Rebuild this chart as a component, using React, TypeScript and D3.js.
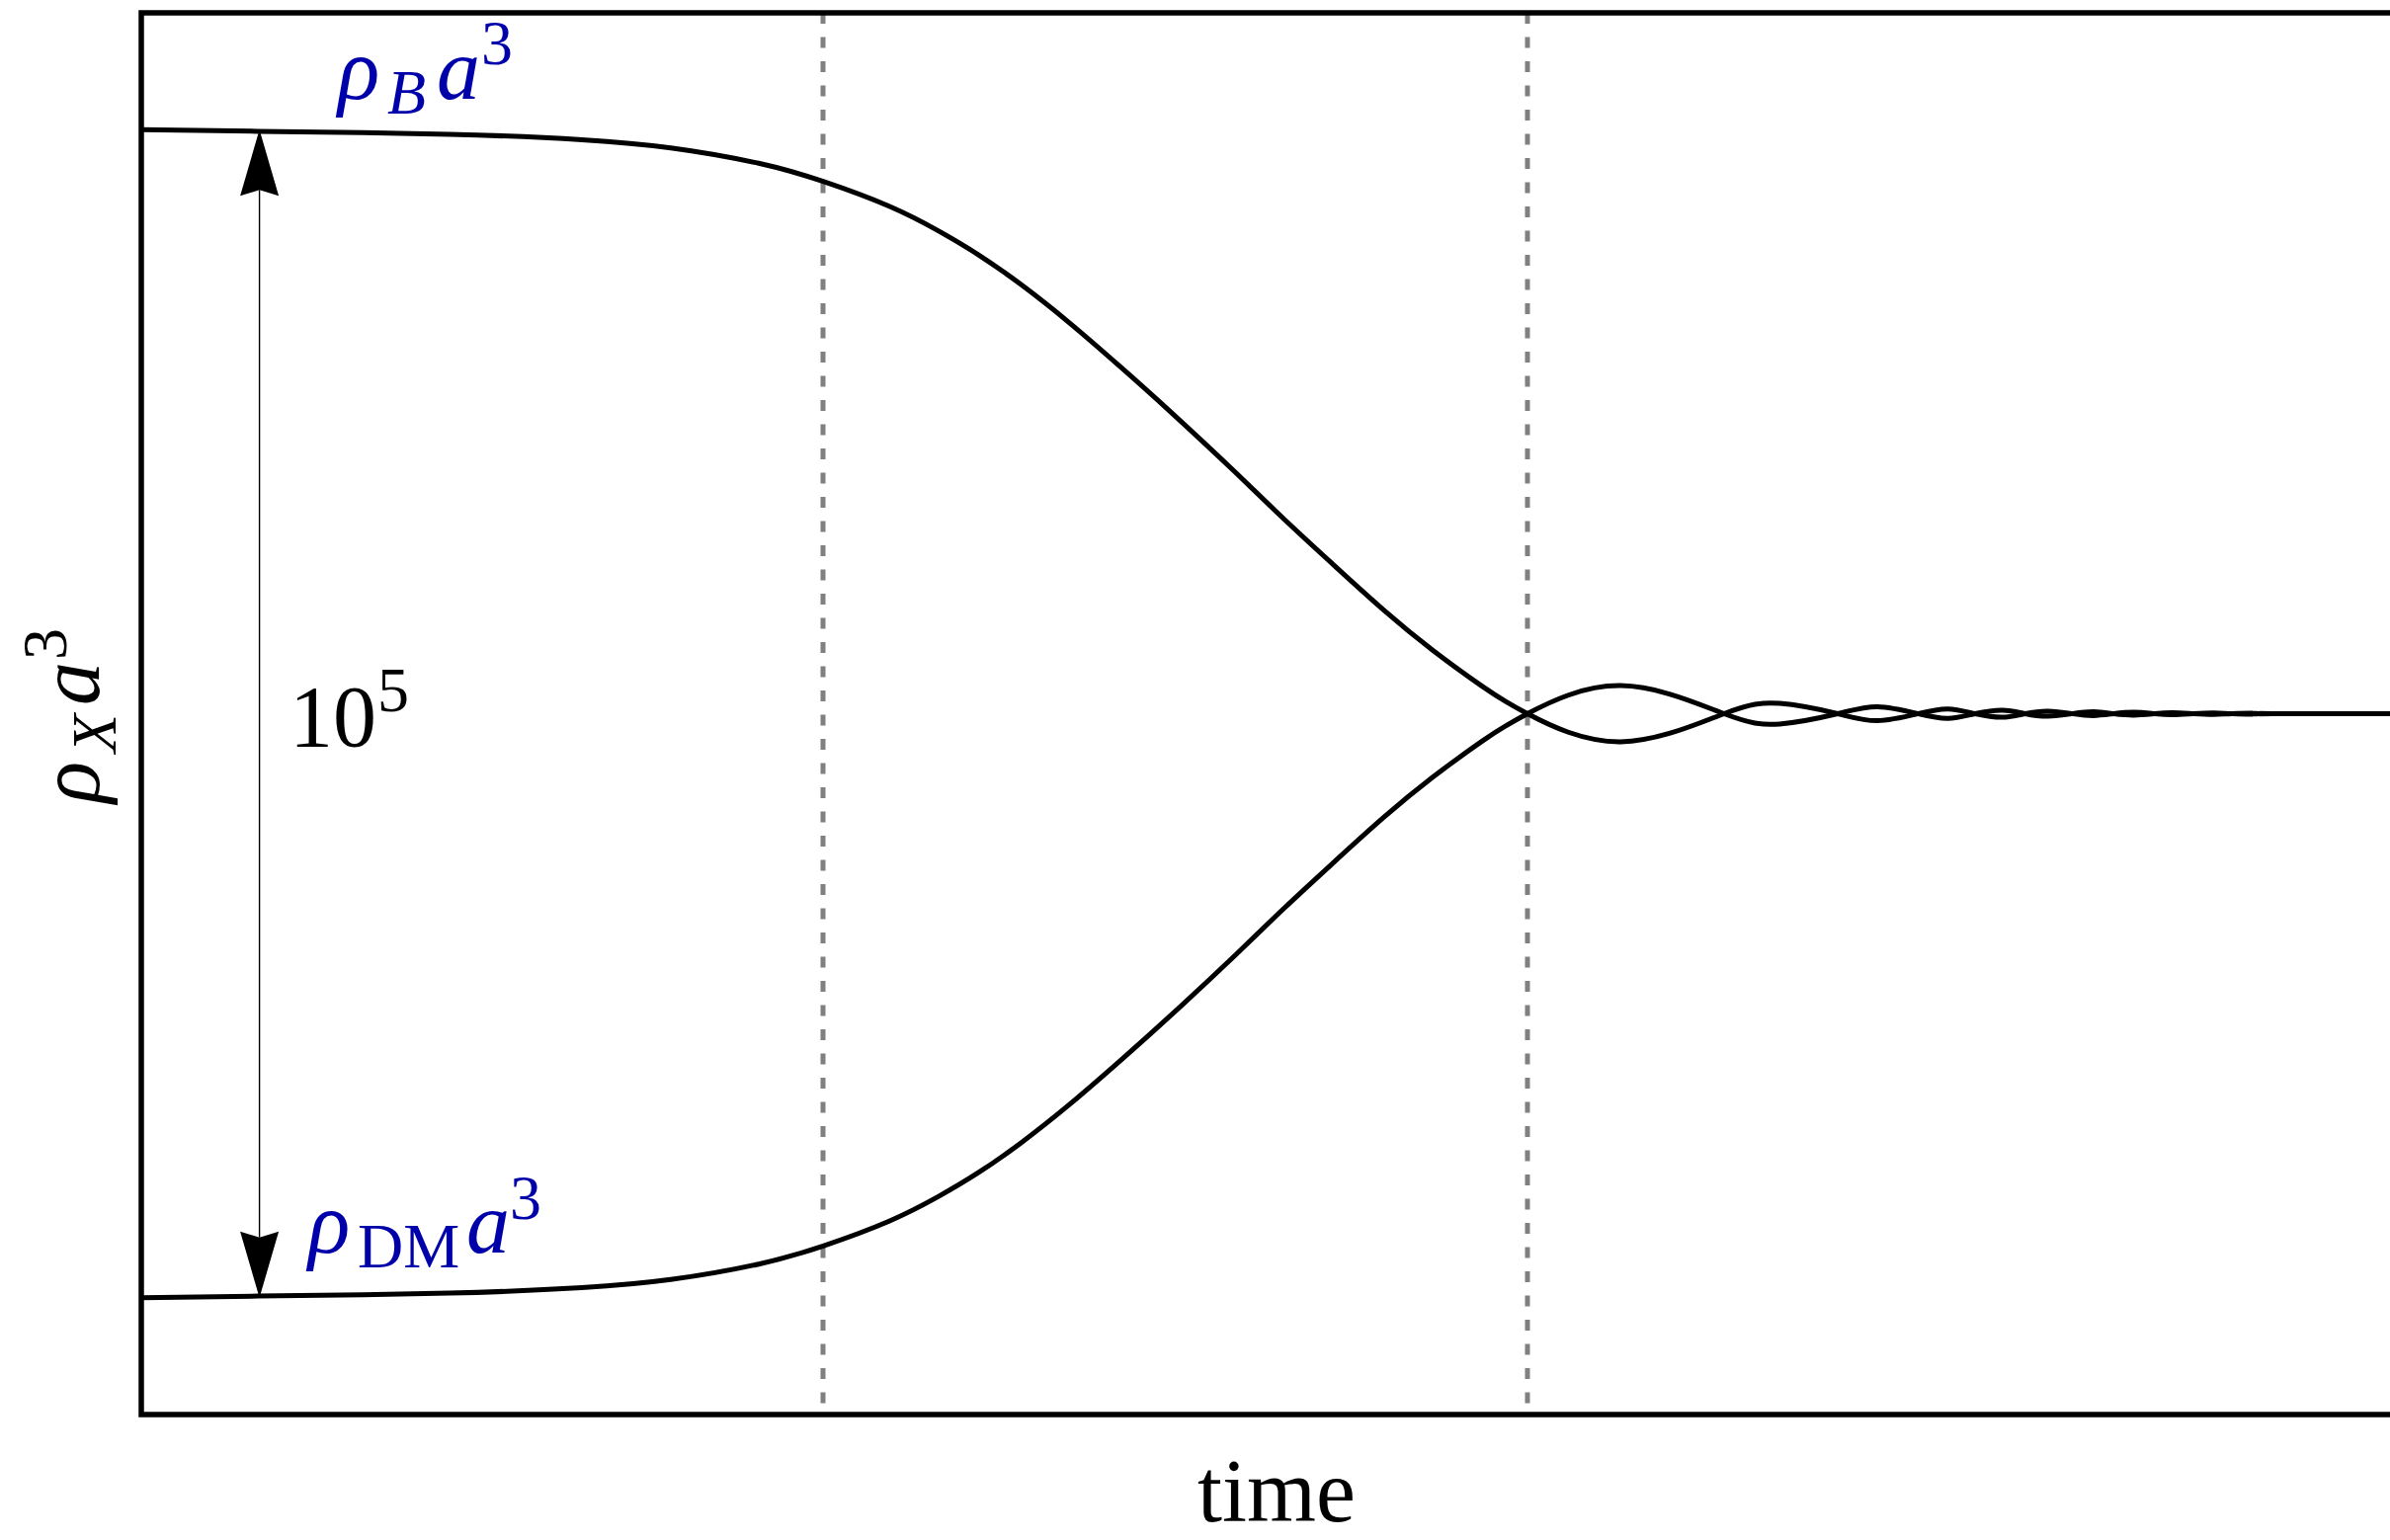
import React from "react";
import * as d3 from "d3";

// ---- data (time in arbitrary units, values in log10 units) ----
const times = [
  0, 5.13, 13.57, 19.39, 23.3, 27.17, 30.04, 32.91, 35.09, 36.83, 38.7, 40.87, 43.04, 45.22, 48.13,
  50.3, 52.48, 54.65, 56.83, 59.0, 61.0, 65.1, 69.65, 72.1, 74.65, 76.4, 78.2, 79.5, 80.7,
  81.9, 82.9, 83.9, 85.0, 85.9, 86.8, 87.7, 88.6, 89.4, 90.3, 91.2, 92.0, 92.9, 93.8, 100,
];
const rhoB = [
  5.0, 4.993, 4.98, 4.957, 4.922, 4.856, 4.777, 4.672, 4.566, 4.465, 4.338, 4.171, 3.989, 3.799, 3.535,
  3.332, 3.136, 2.946, 2.772, 2.618, 2.5, 2.38, 2.5, 2.544, 2.5, 2.47, 2.5, 2.52, 2.5,
  2.485, 2.5, 2.511, 2.5, 2.492, 2.5, 2.506, 2.5, 2.496, 2.5, 2.503, 2.5, 2.498, 2.5, 2.5,
];
const rhoDM = [
  0.0, 0.007, 0.02, 0.043, 0.078, 0.144, 0.223, 0.328, 0.434, 0.535, 0.662, 0.829, 1.011, 1.201, 1.465,
  1.668, 1.864, 2.054, 2.228, 2.382, 2.5, 2.62, 2.5, 2.456, 2.5, 2.53, 2.5, 2.48, 2.5,
  2.515, 2.5, 2.489, 2.5, 2.508, 2.5, 2.494, 2.5, 2.504, 2.5, 2.497, 2.5, 2.502, 2.5, 2.5,
];
const transitionTimes = [30, 61];
const gapTime = 5.2;
const gapTop = 5;
const gapBottom = 0;
const gapLabel = { base: "10", exp: "5" };
const xLabel = "time";

const W = 2419;
const H = 1559;
const plot = { left: 143, top: 13, right: 2443, bottom: 1432 };
const BLUE = "#0000AA";
const FONT = "'Liberation Serif', 'DejaVu Serif', serif";

export default function App() {
  const x = d3.scaleLinear().domain([0, 100]).range([plot.left, plot.right]);
  const y = d3.scaleLinear().domain([-0.5, 5.5]).range([plot.bottom, plot.top]);

  const line = d3
    .line<number>()
    .x((_, i) => x(times[i]))
    .y((d) => y(d))
    .curve(d3.curveNatural);

  const ax = x(gapTime);
  const yTop = y(gapTop);
  const yBot = y(gapBottom);
  const headLen = 67;
  const headHalf = 19.5;
  const notch = 6;
  const upHead = `M${ax},${yTop} L${ax - headHalf},${yTop + headLen} L${ax},${yTop + headLen - notch} L${ax + headHalf},${yTop + headLen} Z`;
  const downHead = `M${ax},${yBot} L${ax - headHalf},${yBot - headLen} L${ax},${yBot - headLen + notch} L${ax + headHalf},${yBot - headLen} Z`;

  return (
    <svg
      width={W}
      height={H}
      style={{ position: "absolute", left: 0, top: 0, display: "block", background: "#fff" }}
    >
      <defs>
        <clipPath id="plotclip">
          <rect x={plot.left} y={plot.top} width={plot.right - plot.left} height={plot.bottom - plot.top} />
        </clipPath>
      </defs>

      {transitionTimes.map((t) => (
        <line
          key={t}
          x1={x(t)}
          x2={x(t)}
          y1={plot.top}
          y2={plot.bottom}
          stroke="#808080"
          strokeWidth={5}
          strokeDasharray="11 13.5"
        />
      ))}

      <g clipPath="url(#plotclip)">
        <path d={line(rhoB) || ""} fill="none" stroke="#000" strokeWidth={5} strokeLinejoin="round" />
        <path d={line(rhoDM) || ""} fill="none" stroke="#000" strokeWidth={5} strokeLinejoin="round" />
      </g>

      {/* gap arrow */}
      <line x1={ax} x2={ax} y1={yTop + headLen - notch} y2={yBot - headLen + notch} stroke="#000" strokeWidth={1.4} />
      <path d={upHead} fill="#000" />
      <path d={downHead} fill="#000" />
      <text x={293} y={755} fontFamily={FONT} fontSize={88} fill="#000">
        {gapLabel.base}
        <tspan x={382} y={720} fontSize={64}>{gapLabel.exp}</tspan>
      </text>

      {/* frame */}
      <rect
        x={plot.left}
        y={plot.top}
        width={plot.right - plot.left}
        height={plot.bottom - plot.top}
        fill="none"
        stroke="#000"
        strokeWidth={5.5}
      />

      {/* series labels */}
      <text fontFamily={FONT} fill={BLUE} fontSize={88}>
        <tspan x={342} y={100} fontStyle="italic">ρ</tspan>
        <tspan x={392} y={115} fontStyle="italic" fontSize={64}>B</tspan>
        <tspan x={442} y={100} fontStyle="italic">a</tspan>
        <tspan x={487} y={65} fontSize={64}>3</tspan>
      </text>
      <text fontFamily={FONT} fill={BLUE} fontSize={88}>
        <tspan x={312} y={1268} fontStyle="italic">ρ</tspan>
        <tspan x={362} y={1283} fontSize={64}>DM</tspan>
        <tspan x={472} y={1268} fontStyle="italic">a</tspan>
        <tspan x={516} y={1234} fontSize={64}>3</tspan>
      </text>

      {/* axis labels */}
      <text x={1292} y={1540} textAnchor="middle" fontFamily={FONT} fontSize={90} fill="#000">
        {xLabel}
      </text>
      <text transform="rotate(-90)" fontFamily={FONT} fontSize={88} fill="#000">
        <tspan x={-813} y={100} fontStyle="italic">ρ</tspan>
        <tspan x={-762} y={117} fontStyle="italic" fontSize={64}>X</tspan>
        <tspan x={-714} y={100} fontStyle="italic">a</tspan>
        <tspan x={-668} y={67} fontSize={64}>3</tspan>
      </text>
    </svg>
  );
}
